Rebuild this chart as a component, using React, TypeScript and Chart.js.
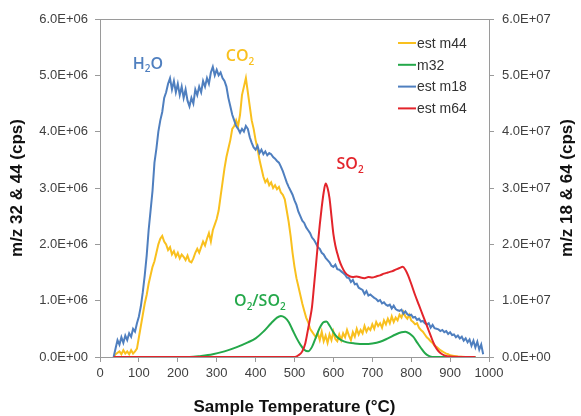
import React, { useEffect, useRef } from 'react';
import { Chart, registerables } from 'chart.js';
Chart.register(...registerables);

// ---- data (left axis in E+06 cps, right axis in E+07 cps) ----
const xTicks = [0, 100, 200, 300, 400, 500, 600, 700, 800, 900, 1000];

const m44T = [35, 40, 50, 55, 60, 65, 70, 75, 80, 85, 90, 95, 100, 105, 110, 115, 120, 125, 130, 135, 140, 145, 150, 155, 160, 165, 170, 175, 180, 185, 190, 195, 200, 205, 210, 215, 220, 225, 230, 235, 240, 245, 250, 255, 260, 265, 270, 275, 280, 285, 290, 295, 300, 305, 310, 315, 320, 325, 330, 335, 340, 345, 350, 355, 360, 365, 370, 375, 380, 385, 390, 395, 400, 405, 410, 415, 420, 425, 430, 435, 440, 445, 450, 455, 460, 465, 470, 475, 480, 485, 490, 495, 500, 505, 510, 515, 520, 525, 530, 535, 540, 545, 550, 555, 560, 565, 570, 575, 580, 585, 590, 595, 600, 605, 610, 615, 620, 625, 630, 635, 640, 645, 650, 655, 660, 665, 670, 675, 680, 685, 690, 695, 700, 705, 710, 715, 720, 725, 730, 735, 740, 745, 750, 755, 760, 765, 770, 775, 780, 785, 790, 795, 800, 805, 810, 815, 820, 825, 830, 835, 840, 845, 850, 855, 860, 865, 870, 875, 880, 885, 890, 895, 900, 910, 920, 940, 965];
const m44V = [0.0, 0.05, 0.10, 0.05, 0.12, 0.06, 0.10, 0.05, 0.12, 0.06, 0.10, 0.15, 0.35, 0.55, 0.75, 0.95, 1.10, 1.30, 1.45, 1.60, 1.70, 1.85, 2.00, 2.10, 2.15, 2.05, 2.00, 1.90, 1.95, 1.82, 1.88, 1.78, 1.85, 1.75, 1.82, 1.78, 1.72, 1.80, 1.70, 1.68, 1.75, 1.85, 1.92, 1.85, 1.95, 2.05, 1.98, 2.10, 2.20, 2.05, 2.25, 2.35, 2.45, 2.60, 2.85, 3.10, 3.35, 3.55, 3.70, 3.85, 4.05, 4.10, 4.20, 4.10, 4.30, 4.65, 4.80, 4.95, 4.70, 4.45, 4.20, 4.05, 3.85, 3.70, 3.50, 3.35, 3.20, 3.10, 3.15, 3.05, 3.10, 3.00, 3.05, 2.98, 3.02, 2.92, 2.88, 2.80, 2.60, 2.40, 2.15, 1.85, 1.60, 1.40, 1.25, 1.10, 0.95, 0.82, 0.70, 0.62, 0.50, 0.45, 0.40, 0.35, 0.42, 0.30, 0.45, 0.28, 0.38, 0.25, 0.40, 0.30, 0.45, 0.32, 0.28, 0.40, 0.30, 0.42, 0.35, 0.48, 0.38, 0.30, 0.44, 0.36, 0.50, 0.40, 0.48, 0.42, 0.55, 0.45, 0.52, 0.48, 0.58, 0.50, 0.62, 0.55, 0.60, 0.52, 0.65, 0.58, 0.68, 0.60, 0.72, 0.62, 0.70, 0.65, 0.75, 0.70, 0.80, 0.72, 0.68, 0.75, 0.65, 0.62, 0.58, 0.60, 0.52, 0.48, 0.45, 0.40, 0.35, 0.32, 0.28, 0.25, 0.20, 0.18, 0.15, 0.12, 0.10, 0.08, 0.06, 0.05, 0.03, 0.02, 0.01, 0.0, 0.0];

const m32T = [40, 230, 260, 290, 320, 350, 380, 400, 420, 440, 455, 465, 475, 485, 495, 505, 515, 525, 535, 545, 555, 565, 575, 582, 590, 600, 610, 620, 635, 655, 680, 700, 720, 740, 760, 775, 785, 795, 805, 815, 825, 835, 845, 855, 965];
const m32V = [0, 0, 0.02, 0.05, 0.10, 0.17, 0.26, 0.33, 0.45, 0.60, 0.70, 0.73, 0.70, 0.62, 0.48, 0.34, 0.22, 0.13, 0.10, 0.18, 0.35, 0.52, 0.62, 0.63, 0.56, 0.44, 0.35, 0.30, 0.26, 0.24, 0.23, 0.24, 0.27, 0.33, 0.40, 0.44, 0.45, 0.42, 0.36, 0.26, 0.16, 0.07, 0.02, 0, 0];

const m18T = [35, 40, 45, 50, 55, 60, 65, 70, 75, 80, 85, 90, 95, 100, 105, 110, 115, 120, 125, 130, 135, 140, 145, 150, 155, 160, 165, 170, 175, 180, 185, 190, 195, 200, 205, 210, 215, 220, 225, 230, 235, 240, 245, 250, 255, 260, 265, 270, 275, 280, 285, 290, 295, 300, 305, 310, 315, 320, 325, 330, 335, 340, 345, 350, 355, 360, 365, 370, 375, 380, 385, 390, 395, 400, 405, 410, 415, 420, 425, 430, 435, 440, 445, 450, 455, 460, 465, 470, 475, 480, 485, 490, 495, 500, 505, 510, 515, 520, 525, 530, 535, 540, 545, 550, 555, 560, 565, 570, 575, 580, 585, 590, 595, 600, 605, 610, 615, 620, 625, 630, 635, 640, 645, 650, 655, 660, 665, 670, 675, 680, 685, 690, 695, 700, 705, 710, 715, 720, 725, 730, 735, 740, 745, 750, 755, 760, 765, 770, 775, 780, 785, 790, 795, 800, 805, 810, 815, 820, 825, 830, 835, 840, 845, 850, 855, 860, 865, 870, 875, 880, 885, 890, 895, 900, 905, 910, 915, 920, 925, 930, 935, 940, 945, 950, 955, 960, 965, 970, 975, 980, 985];
const m18V = [0.0, 0.15, 0.30, 0.22, 0.35, 0.25, 0.38, 0.30, 0.42, 0.36, 0.50, 0.45, 0.60, 0.72, 0.90, 1.15, 1.45, 1.80, 2.25, 2.60, 2.95, 3.45, 3.70, 4.00, 4.20, 4.35, 4.60, 4.70, 4.85, 4.95, 4.75, 4.90, 4.70, 4.85, 4.65, 4.80, 4.60, 4.75, 4.55, 4.45, 4.60, 4.50, 4.75, 4.65, 4.80, 4.70, 4.90, 4.80, 4.95, 4.85, 5.05, 5.15, 5.00, 5.10, 5.00, 5.05, 4.95, 4.90, 4.80, 4.60, 4.45, 4.30, 4.20, 4.10, 4.05, 3.98, 4.05, 4.00, 4.10, 4.05, 3.90, 3.80, 3.72, 3.68, 3.75, 3.62, 3.68, 3.60, 3.65, 3.58, 3.62, 3.60, 3.55, 3.52, 3.48, 3.45, 3.38, 3.30, 3.20, 3.10, 3.02, 2.95, 2.88, 2.78, 2.70, 2.58, 2.50, 2.42, 2.38, 2.30, 2.25, 2.20, 2.12, 2.08, 2.02, 1.95, 1.92, 1.85, 1.82, 1.76, 1.72, 1.68, 1.62, 1.60, 1.64, 1.56, 1.55, 1.52, 1.49, 1.46, 1.41, 1.40, 1.33, 1.37, 1.29, 1.30, 1.23, 1.21, 1.19, 1.12, 1.17, 1.09, 1.11, 1.08, 1.05, 1.03, 0.99, 1.01, 0.95, 0.97, 0.93, 0.91, 0.93, 0.86, 0.91, 0.85, 0.83, 0.82, 0.84, 0.77, 0.81, 0.76, 0.74, 0.75, 0.70, 0.71, 0.66, 0.68, 0.63, 0.64, 0.60, 0.58, 0.60, 0.52, 0.57, 0.51, 0.50, 0.49, 0.46, 0.48, 0.44, 0.46, 0.41, 0.44, 0.39, 0.40, 0.35, 0.38, 0.33, 0.36, 0.29, 0.33, 0.26, 0.31, 0.20, 0.29, 0.17, 0.27, 0.13, 0.22, 0.05];

const m64T = [35, 500, 510, 520, 528, 535, 540, 545, 550, 555, 560, 565, 570, 575, 580, 585, 590, 595, 600, 605, 610, 615, 622, 630, 640, 650, 660, 670, 680, 690, 700, 710, 720, 730, 740, 750, 760, 770, 778, 785, 792, 800, 810, 820, 830, 840, 850, 858, 866, 875, 885, 900, 965];
const m64V = [0, 0, 0.03, 0.10, 0.25, 0.50, 0.68, 0.89, 1.25, 1.62, 2.00, 2.35, 2.66, 2.92, 3.08, 3.00, 2.82, 2.50, 2.18, 1.98, 1.84, 1.72, 1.60, 1.50, 1.44, 1.42, 1.43, 1.41, 1.40, 1.42, 1.41, 1.43, 1.45, 1.48, 1.50, 1.52, 1.55, 1.58, 1.60, 1.55, 1.45, 1.30, 1.10, 0.92, 0.74, 0.56, 0.38, 0.24, 0.14, 0.07, 0.03, 0.01, 0];

const seriesNames = ['est m44', 'm32', 'est m18', 'est m64'];
const seriesColors = ['#F9C01E', '#24A84A', '#4F7FBF', '#E3242B'];

// text labels on the plot (position in temperature / left-axis units)
const annoText = ['H_2O', 'CO_2', 'SO_2', 'O_2/SO_2'];
const annoT = [123, 360, 643, 411];
const annoV = [5.19, 5.33, 3.41, 0.98];
const annoColor = ['#4F7FBF', '#F9C01E', '#E3242B', '#24A84A'];

const FONT = '"Liberation Sans", Arial, sans-serif';
const AXIS = '#9a9a9a';
const RIGHT_TITLE = 'm/z 18 & 64 (cps)';

const pts = (t: number[], v: number[]) => t.map((x, i) => ({ x, y: v[i] }));

const fmt = (exp: string) => (v: any) => {
  const n = Number(v);
  if (n === 0) return '0.0E+00';
  return n.toFixed(1) + 'E+' + exp;
};

const extrasPlugin = {
  id: 'extras',
  afterDatasetsDraw(chart: any) {
    const { ctx, chartArea } = chart;
    ctx.save();
    // top border
    ctx.strokeStyle = AXIS;
    ctx.lineWidth = 1;
    ctx.beginPath();
    ctx.moveTo(chartArea.left, chartArea.top + 0.5);
    ctx.lineTo(chartArea.right, chartArea.top + 0.5);
    ctx.stroke();

    // annotations with subscripts
    const xs = chart.scales.x;
    const ys = chart.scales.y;
    annoText.forEach((txt, i) => {
      const parts: { s: string; sub: boolean }[] = [];
      for (let k = 0; k < txt.length; k++) {
        if (txt[k] === '_') { parts.push({ s: txt[k + 1], sub: true }); k++; }
        else parts.push({ s: txt[k], sub: false });
      }
      const mainF = '600 16px "Open Sans", sans-serif';
      const subF = '600 10px "Open Sans", sans-serif';
      let w = 0;
      parts.forEach(p => { ctx.font = p.sub ? subF : mainF; w += ctx.measureText(p.s).width; });
      let x = xs.getPixelForValue(annoT[i]) - w / 2;
      const y = ys.getPixelForValue(annoV[i]);
      ctx.fillStyle = annoColor[i];
      ctx.textBaseline = 'middle';
      ctx.textAlign = 'left';
      parts.forEach(p => {
        ctx.font = p.sub ? subF : mainF;
        ctx.fillText(p.s, x, p.sub ? y + 5 : y);
        x += ctx.measureText(p.s).width;
      });
    });

    // legend
    const lx = chartArea.right - 91;
    seriesNames.forEach((name, i) => {
      const ly = chartArea.top + 24 + i * 21.8;
      ctx.strokeStyle = seriesColors[i];
      ctx.lineWidth = 2;
      ctx.beginPath();
      ctx.moveTo(lx, ly);
      ctx.lineTo(lx + 18, ly);
      ctx.stroke();
      ctx.fillStyle = '#333';
      ctx.font = '14px ' + FONT;
      ctx.textBaseline = 'middle';
      ctx.textAlign = 'left';
      ctx.fillText(name, lx + 19, ly + 1);
    });

    // right axis title, reading bottom to top
    ctx.translate(chart.width - 14, (chartArea.top + chartArea.bottom) / 2);
    ctx.rotate(-Math.PI / 2);
    ctx.fillStyle = '#111';
    ctx.font = 'bold 17px ' + FONT;
    ctx.textAlign = 'center';
    ctx.textBaseline = 'middle';
    ctx.fillText(RIGHT_TITLE, 0, 0);
    ctx.restore();
  },
};

export default function App() {
  const ref = useRef<HTMLCanvasElement>(null);
  useEffect(() => {
    if (!ref.current) return;
    const tickFont = { family: FONT, size: 13 };
    const titleFont = { family: FONT, size: 17, weight: 'bold' as const, lineHeight: 1 };
    const chart = new Chart(ref.current, {
      type: 'line',
      data: {
        datasets: [
          { label: seriesNames[0], data: pts(m44T, m44V), yAxisID: 'y', borderColor: seriesColors[0], order: 3, tension: 0 },
          { label: seriesNames[1], data: pts(m32T, m32V), yAxisID: 'y', borderColor: seriesColors[1], order: 2, cubicInterpolationMode: 'monotone' },
          { label: seriesNames[2], data: pts(m18T, m18V), yAxisID: 'y1', borderColor: seriesColors[2], order: 1, tension: 0 },
          { label: seriesNames[3], data: pts(m64T, m64V), yAxisID: 'y1', borderColor: seriesColors[3], order: 0, cubicInterpolationMode: 'monotone' },
        ] as any,
      },
      options: {
        animation: false,
        responsive: false,
        events: [],
        layout: { padding: { top: 19, left: 0, right: 0, bottom: 0 } },
        elements: { point: { radius: 0 }, line: { borderWidth: 2, fill: false } },
        plugins: { legend: { display: false }, tooltip: { enabled: false } },
        scales: {
          x: {
            type: 'linear', min: 0, max: 1000,
            afterBuildTicks: (s: any) => { s.ticks = xTicks.map(v => ({ value: v })); },
            afterFit: (s: any) => { s.height = 59; },
            ticks: { font: tickFont, color: '#404040', padding: 4, maxRotation: 0, callback: (v: any) => String(v) },
            grid: { drawOnChartArea: false, drawTicks: true, tickLength: 5, color: AXIS },
            border: { color: AXIS },
            title: { display: true, text: 'Sample Temperature (°C)', font: titleFont, color: '#111', padding: { top: 0, bottom: 0 } },
          },
          y: {
            position: 'left', min: 0, max: 6,
            afterFit: (s: any) => { s.width = 100; },
            ticks: { stepSize: 1, font: tickFont, color: '#404040', padding: 7, callback: fmt('06') },
            grid: { drawOnChartArea: false, drawTicks: true, tickLength: 5, color: AXIS },
            border: { color: AXIS },
            title: { display: true, text: 'm/z 32 & 44 (cps)', font: titleFont, color: '#111', padding: { top: 8.5, bottom: 0 } },
          },
          y1: {
            position: 'right', min: 0, max: 6,
            afterFit: (s: any) => { s.width = 92; },
            ticks: { stepSize: 1, font: tickFont, color: '#404040', padding: 8, callback: fmt('07') },
            grid: { drawOnChartArea: false, drawTicks: true, tickLength: 5, color: AXIS },
            border: { color: AXIS },
            title: { display: false },
          },
        },
      } as any,
      plugins: [extrasPlugin],
    });
    return () => chart.destroy();
  }, []);
  return (
    <div style={{ position: 'absolute', left: 0, top: 0, width: 581, height: 416, background: '#fff' }}>
      <canvas ref={ref} width={581} height={416} />
    </div>
  );
}
